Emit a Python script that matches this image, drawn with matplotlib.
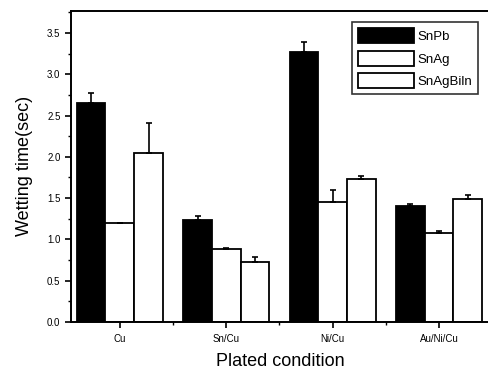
import numpy as np
import matplotlib.pyplot as plt
from matplotlib.ticker import MultipleLocator, FixedLocator

conditions = ["Cu", "Sn/Cu", "Ni/Cu", "Au/Ni/Cu"]
series = ["SnPb", "SnAg", "SnAgBiln"]
snpb = [2.65, 1.23, 3.27, 1.40]
snag = [1.20, 0.88, 1.45, 1.08]
snagbiin = [2.05, 0.73, 1.73, 1.49]
snpb_err = [0.13, 0.05, 0.12, 0.03]
snag_err = [0.0, 0.02, 0.15, 0.02]
snagbiin_err = [0.36, 0.06, 0.04, 0.05]

plt.rcParams["font.family"] = ["Liberation Sans", "DejaVu Sans"]

fig = plt.figure(figsize=(4.89, 3.73), dpi=100)
ax = fig.add_axes([0.145, 0.137, 0.855, 0.834])

x = np.arange(len(conditions))
w = 0.27
values = [snpb, snag, snagbiin]
errs = [snpb_err, snag_err, snagbiin_err]
faces = ["black", "white", "white"]
for i, (vals, er) in enumerate(zip(values, errs)):
    ax.bar(x + (i - 1) * w, vals, w, color=faces[i], edgecolor="black",
           linewidth=1.3, label=series[i],
           yerr=[np.zeros(len(er)), er], capsize=2.5,
           error_kw=dict(ecolor="black", elinewidth=1.2, capthick=1.2))

ax.set_xlim(-0.46, 3.47)
ax.set_ylim(0, 3.77)
ax.yaxis.set_major_locator(MultipleLocator(0.5))
ax.yaxis.set_minor_locator(MultipleLocator(0.25))
ax.set_xticks(x)
ax.set_xticklabels(conditions, fontsize=7)
ax.xaxis.set_minor_locator(FixedLocator([0.5, 1.5, 2.5]))
ax.tick_params(axis="y", labelsize=7, width=1.2, length=4)
ax.tick_params(axis="y", which="minor", width=1.0, length=2.5)
ax.tick_params(axis="x", width=1.2, length=4, pad=5)
ax.tick_params(axis="x", which="minor", width=1.0, length=2.5)
ax.yaxis.set_major_formatter(plt.FuncFormatter(lambda v, p: f"{v:.1f}"))

for s in ["left", "bottom", "top"]:
    ax.spines[s].set_linewidth(1.4)
ax.spines["right"].set_visible(False)

ax.set_ylabel("Wetting time(sec)", fontsize=13, labelpad=10)
ax.set_xlabel("Plated condition", fontsize=13, labelpad=6)

leg = ax.legend(loc="upper right", bbox_to_anchor=(0.99, 0.985),
                fontsize=9.5, frameon=True, fancybox=False, edgecolor="black",
                handlelength=4.2, handleheight=1.4, labelspacing=0.55,
                borderpad=0.45, handletextpad=0.3)
leg.get_frame().set_linewidth(1.2)

fig.savefig("out.png", dpi=100)
